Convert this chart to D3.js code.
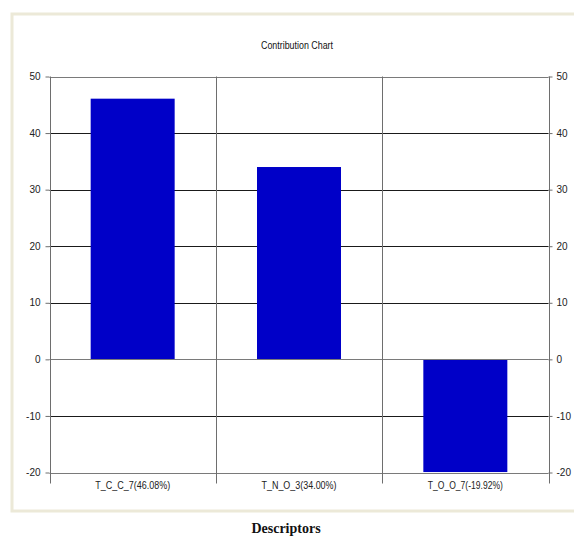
<!DOCTYPE html>
<html>
<head>
<meta charset="utf-8">
<script src="https://cdn.jsdelivr.net/npm/d3@7"></script>
<style>
  html, body { margin: 0; padding: 0; background: #fff; }
  svg { display: block; }
</style>
</head>
<body>
<svg id="chart" width="574" height="544"></svg>
<script>
// Descriptor contributions (%)
const descriptors = ["T_C_C_7", "T_N_O_3", "T_O_O_7"];
const contributions = [46.08, 34.00, -19.92];
const yTicks = [-20, -10, 0, 10, 20, 30, 40, 50];
const chartTitle = "Contribution Chart";
const xTitle = "Descriptors";

const svg = d3.select("#chart");
const plot = { left: 49.5, right: 548.5, top: 76.5, bottom: 472.5 };

// Outer panel with a pale beige frame
svg.append("rect")
  .attr("x", 12).attr("y", 14)
  .attr("width", 574).attr("height", 497)
  .attr("fill", "#ffffff")
  .attr("stroke", "#ece9d8")
  .attr("stroke-width", 3);

svg.append("text")
  .attr("x", 297).attr("y", 49)
  .attr("text-anchor", "middle")
  .attr("font-family", "Liberation Sans, Arial, sans-serif")
  .attr("font-size", 10)
  .attr("textLength", 72)
  .attr("lengthAdjust", "spacingAndGlyphs")
  .attr("fill", "#111")
  .text(chartTitle);

const labels = descriptors.map((d, i) => `${d}(${contributions[i].toFixed(2)}%)`);

const xCat = d3.scaleBand()
  .domain(labels)
  .range([plot.left, plot.right])
  .padding(0);

const xBar = d3.scaleBand()
  .domain(labels)
  .range([plot.left, plot.right])
  .paddingInner(0.495)
  .paddingOuter(0.2475);

const y = d3.scaleLinear()
  .domain([-20, 50])
  .range([plot.bottom, plot.top]);

// Horizontal gridlines
svg.append("g")
  .selectAll("line")
  .data(yTicks.filter(v => v !== 0 && v !== 50 && v !== -20))
  .join("line")
  .attr("x1", plot.left).attr("x2", plot.right)
  .attr("y1", d => Math.round(y(d)) + 0.5)
  .attr("y2", d => Math.round(y(d)) + 0.5)
  .attr("stroke", "#1a1a1a")
  .attr("stroke-width", 1);

// Bars
svg.append("g")
  .selectAll("rect")
  .data(labels)
  .join("rect")
  .attr("x", d => xBar(d))
  .attr("width", xBar.bandwidth())
  .attr("y", (d, i) => y(Math.max(0, contributions[i])))
  .attr("height", (d, i) => Math.abs(y(contributions[i]) - y(0)))
  .attr("fill", "#0000c8");

// Frame lines: top, zero line, bottom
const frameY = [50, 0, -20];
svg.append("g")
  .selectAll("line")
  .data(frameY)
  .join("line")
  .attr("x1", plot.left).attr("x2", plot.right)
  .attr("y1", d => Math.round(y(d)) + 0.5)
  .attr("y2", d => Math.round(y(d)) + 0.5)
  .attr("stroke", "#7a7a7a")
  .attr("stroke-width", 1);

// Category separators extending below the plot
const seps = labels.map(d => xCat(d)).concat([plot.right]);
svg.append("g")
  .selectAll("line")
  .data(seps)
  .join("line")
  .attr("x1", d => Math.round(d) + 0.5).attr("x2", d => Math.round(d) + 0.5)
  .attr("y1", plot.top).attr("y2", plot.bottom + 11)
  .attr("stroke", "#6e6e6e")
  .attr("stroke-width", 1);

// Left and right value axes
const fontFam = "Liberation Sans, Arial, sans-serif";
const tickFmt = d => String(d);
const leftAxis = svg.append("g")
  .attr("transform", `translate(${plot.left},0)`)
  .call(d3.axisLeft(y).tickValues(yTicks).tickSize(4).tickPadding(5).tickFormat(tickFmt));
const rightAxis = svg.append("g")
  .attr("transform", `translate(${plot.right},0)`)
  .call(d3.axisRight(y).tickValues(yTicks).tickSize(4).tickPadding(4).tickFormat(tickFmt));

[leftAxis, rightAxis].forEach(g => {
  g.select(".domain").remove();
  g.selectAll(".tick line").attr("stroke", "#6e6e6e");
  g.selectAll(".tick text")
    .attr("font-family", fontFam)
    .attr("font-size", 10)
    .attr("fill", "#222");
});

// Category labels
svg.append("g")
  .selectAll("text")
  .data(labels)
  .join("text")
  .attr("x", d => xCat(d) + xCat.bandwidth() / 2)
  .attr("y", plot.bottom + 16)
  .attr("text-anchor", "middle")
  .attr("font-family", fontFam)
  .attr("font-size", 10)
  .attr("textLength", 75)
  .attr("lengthAdjust", "spacingAndGlyphs")
  .attr("fill", "#222")
  .text(d => d);

// Axis title
svg.append("text")
  .attr("x", 286).attr("y", 533)
  .attr("text-anchor", "middle")
  .attr("font-family", "Liberation Serif, Times New Roman, serif")
  .attr("font-weight", "bold")
  .attr("font-size", 14)
  .attr("fill", "#111")
  .text(xTitle);
</script>
</body>
</html>
